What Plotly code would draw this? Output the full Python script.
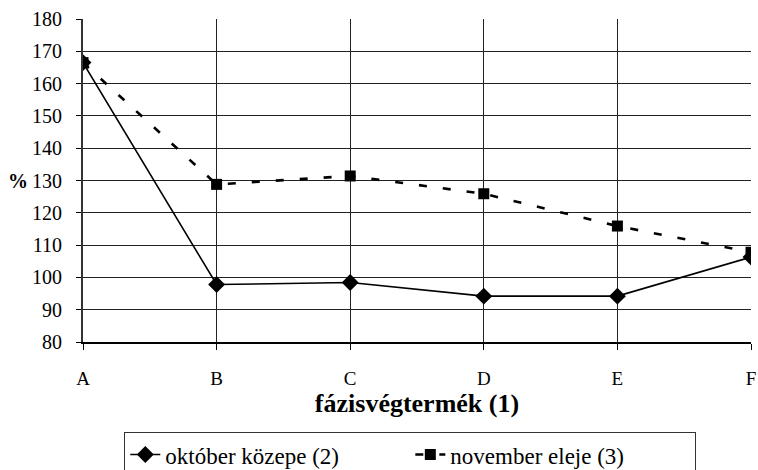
import plotly.graph_objects as go

categories = ["A", "B", "C", "D", "E", "F"]
oktober = [166.5, 97.8, 98.4, 94.2, 94.2, 106.3]
november = [166.5, 128.8, 131.4, 125.9, 115.9, 107.8]
y_ticks = list(range(80, 181, 10))

FONT = "Liberation Serif"

fig = go.Figure()
fig.add_trace(go.Scatter(
    x=categories, y=oktober, name="október közepe (2)", mode="lines+markers",
    line=dict(color="black", width=1.6),
    marker=dict(symbol="diamond", size=13, color="black"),
))
fig.add_trace(go.Scatter(
    x=categories, y=november, name="november eleje (3)", mode="lines+markers",
    line=dict(color="black", width=2.6, dash="8px,16px"),
    marker=dict(symbol="square", size=11, color="black"),
))

fig.update_layout(
    width=758, height=470,
    margin=dict(l=83, r=7, t=19, b=128, autoexpand=False),
    paper_bgcolor="white", plot_bgcolor="white",
    font=dict(family=FONT, color="black", size=19),
    showlegend=True,
    legend=dict(
        orientation="h", x=0.49, xanchor="center", y=-0.279, yanchor="top",
        bordercolor="#333", borderwidth=1, font=dict(size=23, family=FONT),
        entrywidth=240, bgcolor="white",
    ),
    xaxis=dict(
        type="category", range=[0, 5],
        showgrid=True, gridcolor="#222", gridwidth=1,
        showline=True, linecolor="black", linewidth=2,
        ticks="outside", ticklen=6, tickcolor="black",
        tickfont=dict(size=19, family=FONT), ticklabelstandoff=12,
        title=dict(text="<b>fázisvégtermék (1)</b>", font=dict(size=26, family=FONT), standoff=1),
        zeroline=False, automargin=False,
    ),
    yaxis=dict(
        range=[80, 180], tickvals=y_ticks, ticktext=[str(v) for v in y_ticks],
        showgrid=True, gridcolor="#222", gridwidth=1,
        showline=True, linecolor="#333", linewidth=2,
        ticks="outside", ticklen=5, tickcolor="black",
        tickfont=dict(size=20, family=FONT), ticklabelstandoff=10,
        zeroline=False, automargin=False,
    ),
    annotations=[dict(
        text="<b>%</b>", xref="paper", yref="y", x=-0.098, y=130,
        xanchor="center", yanchor="middle", showarrow=False,
        font=dict(size=20, family=FONT),
    )],
)

fig.write_html("out.html")
